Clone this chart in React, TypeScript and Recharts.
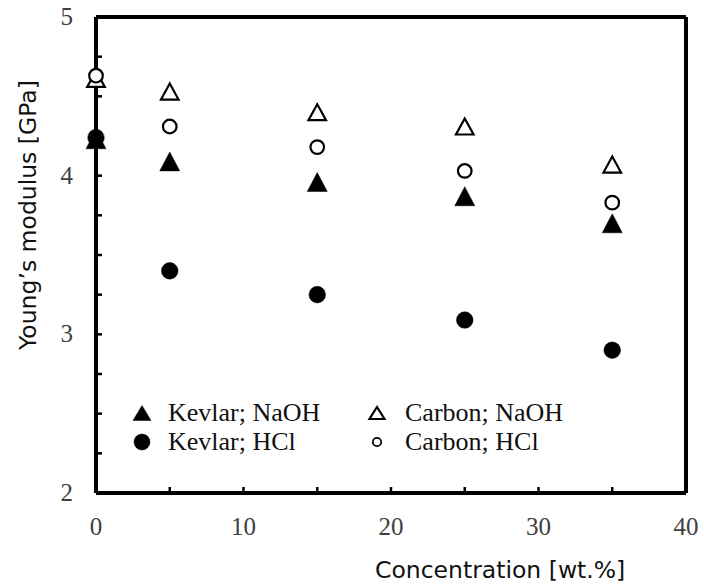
import { ScatterChart, Scatter, XAxis, YAxis } from 'recharts'

// concentration of the treatment solution, wt.%
const concentration = [0, 5, 15, 25, 35]

// Young's modulus, GPa
const kevlarNaOH = [4.23, 4.09, 3.96, 3.87, 3.7]
const carbonNaOH = [4.61, 4.53, 4.4, 4.31, 4.07]
const kevlarHCl = [4.24, 3.4, 3.25, 3.09, 2.9]
const carbonHCl = [4.63, 4.31, 4.18, 4.03, 3.83]

const xTicks = [0, 5, 10, 15, 20, 25, 30, 35, 40]
const yTicks = [2, 2.25, 2.5, 2.75, 3, 3.25, 3.5, 3.75, 4, 4.25, 4.5, 4.75, 5]

type Marker = 'triangle' | 'circle'

const series: { name: string; values: number[]; marker: Marker; filled: boolean }[] = [
  { name: 'Kevlar; NaOH', values: kevlarNaOH, marker: 'triangle', filled: true },
  { name: 'Carbon; NaOH', values: carbonNaOH, marker: 'triangle', filled: false },
  { name: 'Kevlar; HCl', values: kevlarHCl, marker: 'circle', filled: true },
  { name: 'Carbon; HCl', values: carbonHCl, marker: 'circle', filled: false },
]

const serif = '"Liberation Serif", "Times New Roman", serif'
const sans = '"DejaVu Sans", Verdana, sans-serif'
const frameLine = { stroke: '#000', strokeWidth: 4 }

function MarkerGlyph({ cx, cy, marker, filled, small }: { cx: number; cy: number; marker: Marker; filled: boolean; small?: boolean }) {
  if (marker === 'triangle') {
    const w = filled ? (small ? 9 : 10) : (small ? 7.5 : 8.8)
    const h = filled ? (small ? 7.5 : 9.5) : (small ? 6 : 8)
    return (
      <path
        d={`M${cx},${cy - h}L${cx + w},${cy + h}L${cx - w},${cy + h}Z`}
        fill={filled ? '#000' : '#fff'}
        stroke="#000"
        strokeWidth={filled ? 0.5 : 2.2}
      />
    )
  }
  const r = filled ? (small ? 8 : 8.3) : (small ? 4.2 : 6.8)
  return (
    <circle
      cx={cx}
      cy={cy}
      r={r}
      fill={filled ? '#000' : '#fff'}
      stroke="#000"
      strokeWidth={filled ? 0.5 : small ? 1.8 : 2.2}
    />
  )
}

const XTick = (props: any) => {
  const { x, y, payload } = props
  const v = payload.value as number
  return (
    <g>
      <line x1={x} y1={y} x2={x} y2={y - 6} stroke="#000" strokeWidth={2.5} />
      {v % 10 === 0 && (
        <text x={x} y={y + 42} textAnchor="middle" fontFamily={serif} fontSize={25} fill="#404040">
          {v}
        </text>
      )}
    </g>
  )
}

const YTick = (props: any) => {
  const { x, y, payload } = props
  const v = payload.value as number
  return (
    <g>
      <line x1={x} y1={y} x2={x + 6} y2={y} stroke="#000" strokeWidth={2.5} />
      {Number.isInteger(v) && (
        <text x={x - 23} y={y + 8} textAnchor="end" fontFamily={serif} fontSize={25} fill="#404040">
          {v}
        </text>
      )}
    </g>
  )
}

const XTitle = (props: any) => {
  const { x, y, width } = props.viewBox
  return (
    <text x={x + width * 0.685} y={y + 85} textAnchor="middle" fontFamily={sans} fontSize={23.5} fill="#111">
      Concentration [wt.%]
    </text>
  )
}

const YTitle = (props: any) => {
  const { x, y } = props.viewBox
  const cx = x + 28
  const cy = y + 198
  return (
    <text
      x={cx}
      y={cy}
      transform={`rotate(-90 ${cx} ${cy})`}
      textAnchor="middle"
      dominantBaseline="central"
      fontFamily={sans}
      fontSize={23.5}
      fill="#111"
    >
      Young’s modulus [GPa]
    </text>
  )
}

const legendPos = [
  { mx: 142, tx: 168, y: 413 },
  { mx: 377, tx: 405, y: 413 },
  { mx: 142, tx: 168, y: 442 },
  { mx: 377, tx: 405, y: 442 },
]

function ChartLegend() {
  return (
    <svg width={704} height={586} style={{ position: 'absolute', left: 0, top: 0, pointerEvents: 'none' }}>
      {series.map((s, i) => (
        <g key={s.name}>
          <MarkerGlyph cx={legendPos[i].mx} cy={legendPos[i].y} marker={s.marker} filled={s.filled} small />
          <text x={legendPos[i].tx} y={legendPos[i].y + 8} fontFamily={serif} fontSize={26} fill="#111">
            {s.name}
          </text>
        </g>
      ))}
    </svg>
  )
}

export default function App() {
  return (
    <div style={{ position: 'absolute', left: 0, top: 0, width: 704, height: 586, background: '#fff' }}>
      <ScatterChart width={704} height={586} margin={{ top: 16, right: 17, bottom: 0, left: 0 }}>
        <XAxis
          type="number"
          dataKey="x"
          domain={[0, 40]}
          ticks={xTicks}
          interval={0}
          height={93}
          tickSize={0}
          tickMargin={0}
          tickLine={false}
          axisLine={frameLine}
          tick={<XTick />}
          label={{ content: XTitle }}
        />
        <XAxis
          xAxisId="top"
          orientation="top"
          type="number"
          dataKey="x"
          domain={[0, 40]}
          height={1}
          tick={false}
          tickLine={false}
          axisLine={frameLine}
        />
        <YAxis
          type="number"
          dataKey="y"
          domain={[2, 5]}
          ticks={yTicks}
          interval={0}
          width={96}
          tickSize={0}
          tickMargin={0}
          tickLine={false}
          axisLine={frameLine}
          tick={<YTick />}
          label={{ content: YTitle }}
        />
        <YAxis
          yAxisId="right"
          orientation="right"
          type="number"
          dataKey="y"
          domain={[2, 5]}
          width={1}
          tick={false}
          tickLine={false}
          axisLine={frameLine}
        />
        {series.map((s) => (
          <Scatter
            key={s.name}
            name={s.name}
            xAxisId={s.filled ? 0 : 'top'}
            yAxisId={s.filled ? 0 : 'right'}
            data={concentration.map((c, i) => ({ x: c, y: s.values[i] }))}
            isAnimationActive={false}
            shape={(p: any) => <MarkerGlyph cx={p.cx} cy={p.cy} marker={s.marker} filled={s.filled} />}
          />
        ))}
      </ScatterChart>
      <ChartLegend />
    </div>
  )
}
